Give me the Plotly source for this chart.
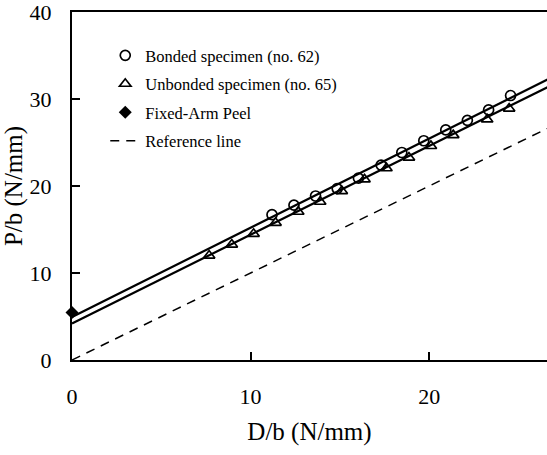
import numpy as np
import plotly.graph_objects as go

# ---- data ----
bonded_x = [11.2, 12.43, 13.64, 14.85, 16.04, 17.31, 18.47, 19.7, 20.93, 22.14, 23.33, 24.56]
bonded_y = [16.7, 17.8, 18.85, 19.7, 20.9, 22.4, 23.85, 25.2, 26.45, 27.55, 28.75, 30.4]

unbonded_x = [7.68, 8.95, 10.17, 11.4, 12.67, 13.9, 15.11, 16.38, 17.61, 18.87, 20.1, 21.35, 23.25, 24.48]
unbonded_y = [12.0, 13.27, 14.5, 15.77, 17.04, 18.19, 19.42, 20.77, 22.04, 23.27, 24.6, 25.85, 27.65, 28.9]

peel_x = [0.0]
peel_y = [5.45]

# linear fits (intercept, slope)
bonded_fit = [4.95, 1.025]
unbonded_fit = [4.2, 1.02]
reference_fit = [0.0, 1.0]
line_x = [0.0, 27.0]

x_ticks = [0, 10, 20]
y_ticks = [0, 10, 20, 30, 40]

FONT = "Liberation Serif, Times New Roman, serif"

def fit_line(p):
    xs = np.array(line_x)
    return xs, p[0] + p[1] * xs

fig = go.Figure()

bx, by = fit_line(bonded_fit)
ux, uy = fit_line(unbonded_fit)
rx, ry = fit_line(reference_fit)

fig.add_trace(go.Scatter(x=bx, y=by, mode="lines", line=dict(color="black", width=2.2),
                         showlegend=False, hoverinfo="skip"))
fig.add_trace(go.Scatter(x=ux, y=uy, mode="lines", line=dict(color="black", width=2.2),
                         showlegend=False, hoverinfo="skip"))

fig.add_trace(go.Scatter(x=bonded_x, y=bonded_y, mode="markers", name="Bonded specimen (no. 62)",
                         legendgroup="a",
                         marker=dict(symbol="circle-open", size=10, color="black", line=dict(width=1.7))))
fig.add_trace(go.Scatter(x=unbonded_x, y=unbonded_y, mode="markers", name="Unbonded specimen (no. 65)",
                         legendgroup="b",
                         marker=dict(symbol="triangle-up-open", size=10, color="black", line=dict(width=1.7))))
fig.add_trace(go.Scatter(x=peel_x, y=peel_y, mode="markers", name="Fixed-Arm Peel",
                         legendgroup="c", cliponaxis=False,
                         marker=dict(symbol="diamond", size=10, color="black")))
fig.add_trace(go.Scatter(x=rx, y=ry, mode="lines", name="Reference line",
                         legendgroup="d",
                         line=dict(color="black", width=1.5, dash="9px,7px")))

fig.update_layout(
    width=547, height=455, autosize=False,
    margin=dict(l=72, r=0, t=12, b=95, autoexpand=False),
    paper_bgcolor="white", plot_bgcolor="white",
    font=dict(family=FONT, color="black"),
    showlegend=True,
    legend=dict(x=0.07, y=0.925, xanchor="left", yanchor="top",
                font=dict(family=FONT, size=16.5, color="black"),
                bgcolor="rgba(0,0,0,0)", tracegroupgap=4, itemwidth=30),
)

fig.update_xaxes(
    range=[0, 26.6], tickvals=x_ticks, ticktext=[str(v) for v in x_ticks],
    showgrid=False, zeroline=False, automargin=False,
    showline=True, linecolor="black", linewidth=2, mirror=True,
    ticks="inside", ticklen=8, tickwidth=1.5, tickcolor="black",
    tickfont=dict(family=FONT, size=22, color="black"),
    ticklabelstandoff=16, ticklabeloverflow="allow",
    title=dict(text="D/b (N/mm)", font=dict(family=FONT, size=25, color="black"), standoff=14),
)
fig.update_yaxes(
    range=[0, 40], tickvals=y_ticks, ticktext=[str(v) for v in y_ticks],
    showgrid=False, zeroline=False, automargin=False,
    showline=True, linecolor="black", linewidth=2, mirror=False,
    ticks="inside", ticklen=8, tickwidth=1.5, tickcolor="black",
    tickfont=dict(family=FONT, size=22, color="black"),
    ticklabelstandoff=14, ticklabeloverflow="allow",
    title=dict(text="P/b (N/mm)", font=dict(family=FONT, size=25, color="black"), standoff=0),
)

fig.write_html("out.html", config={"displayModeBar": False},
               post_script="document.body.style.margin='0px';document.body.style.overflow='hidden';")
